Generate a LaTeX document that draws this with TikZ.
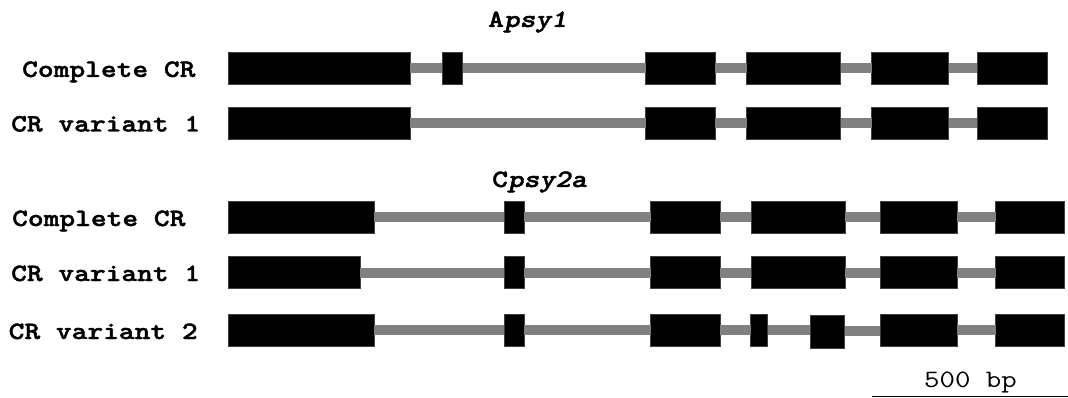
\documentclass[tikz,border=0pt]{standalone}
\usepackage{fontspec}
% heavy, widened typewriter face for the labels and gene names
\newfontfamily\labelface{lmmonolt10-bold}[Extension=.otf,
  ItalicFont=lmmonolt10-boldoblique,FakeBold=1.6,FakeStretch=1.2]
\definecolor{introngray}{RGB}{128,128,128}
% regular typewriter text, widened to the same pitch
\newcommand\widetype[1]{\scalebox{1.2}[1]{#1}}
% one exon: [height]{name}{left}{right}{centre y}
\newcommand\geneexon[5][32]{%
  \node[exon,minimum width={(#4-#3)*1pt},minimum height={#1*1pt}] (#2) at ({(#3+#4)/2},#5) {};}
\begin{document}
\begin{tikzpicture}[x=1pt,y=-1pt,
  exon/.style={rectangle,fill=black,draw=black!75,line width=0.5pt,inner sep=0pt,outer sep=0pt},
  intron/.style={draw=introngray,line width=10pt},
  rowlabel/.style={anchor=base west,inner sep=0pt,font=\fontsize{25}{30}\selectfont\labelface},
  genetitle/.style={anchor=base west,inner sep=0pt,font=\fontsize{25}{30}\selectfont\labelface},
  scaletext/.style={anchor=base,inner sep=0pt,font=\fontsize{25}{30}\selectfont\ttfamily}]
\useasboundingbox (0,0) rectangle (1068,398);

% ---------------- Apsy1 ----------------
\node[genetitle] (tA) at (488,27) {A\textit{psy1}};

% complete CR
\geneexon{a1}{228}{410}{68.2}
\geneexon{a2}{442}{462.5}{68.2}
\geneexon{a3}{645.7}{715}{68.2}
\geneexon{a4}{746.5}{840.5}{68.2}
\geneexon{a5}{871.5}{948.5}{68.2}
\geneexon{a6}{976.8}{1047.6}{68.2}
\foreach \p/\q in {a1/a2,a2/a3,a3/a4,a4/a5,a5/a6}
  \draw[intron] (\p.east) -- (\q.west);
\node[rowlabel] (la) at (22,76.9) {Complete CR};

% CR variant 1
\geneexon{b1}{228}{410}{122.8}
\geneexon{b3}{645.7}{715}{122.8}
\geneexon{b4}{746.5}{840.5}{122.8}
\geneexon{b5}{871.5}{948.5}{122.8}
\geneexon{b6}{976.8}{1047.6}{122.8}
\foreach \p/\q in {b1/b3,b3/b4,b4/b5,b5/b6}
  \draw[intron] (\p.east) -- (\q.west);
\node[rowlabel] (lb) at (11,131.5) {CR variant 1};

% ---------------- Cpsy2a ----------------
\node[genetitle] (tC) at (492,187) {C\textit{psy2a}};

% complete CR
\geneexon{c1}{228}{374}{217.3}
\geneexon{c2}{504}{524}{217.3}
\geneexon{c3}{650.7}{720}{217.3}
\geneexon{c4}{751.3}{845}{217.3}
\geneexon{c5}{880.4}{957}{217.3}
\geneexon{c6}{995.5}{1064.6}{217.3}
\foreach \p/\q in {c1/c2,c2/c3,c3/c4,c4/c5,c5/c6}
  \draw[intron] (\p.east) -- (\q.west);
\node[rowlabel] (lc) at (12,226) {Complete CR};

% CR variant 1
\geneexon{d1}{228}{360}{272.5}
\geneexon{d2}{504}{524}{272.5}
\geneexon{d3}{650.7}{720}{272.5}
\geneexon{d4}{751.3}{845}{272.5}
\geneexon{d5}{880.4}{957}{272.5}
\geneexon{d6}{995.5}{1064.6}{272.5}
\foreach \p/\q in {d1/d2,d2/d3,d3/d4,d4/d5,d5/d6}
  \draw[intron] (\p.east) -- (\q.west);
\node[rowlabel] (ld) at (11,281) {CR variant 1};

% CR variant 2
\geneexon{e1}{228}{374}{330.3}
\geneexon{e2}{504}{524}{330.3}
\geneexon{e3}{650.7}{720}{330.3}
\geneexon{e4}{750.6}{767.6}{330.3}
\geneexon[33]{e5}{810}{844.6}{331.3}
\geneexon{e6}{880.4}{957}{330.3}
\geneexon{e7}{995.5}{1064.6}{330.3}
\foreach \p/\q in {e1/e2,e2/e3,e3/e4,e4/e5,e5/e6,e6/e7}
  \draw[intron] (\p.east) -- (\p.east -| \q.west);
\node[rowlabel] (le) at (8.5,339) {CR variant 2};

% ---------------- scale bar ----------------
\coordinate (sbL) at (872,396.5);
\coordinate (sbR) at (1068,396.5);
\draw[line width=1.3pt] (sbL) -- (sbR);
\node[scaletext] (sbT) at (970.5,387) {\widetype{500 bp}};
\end{tikzpicture}
\end{document}
